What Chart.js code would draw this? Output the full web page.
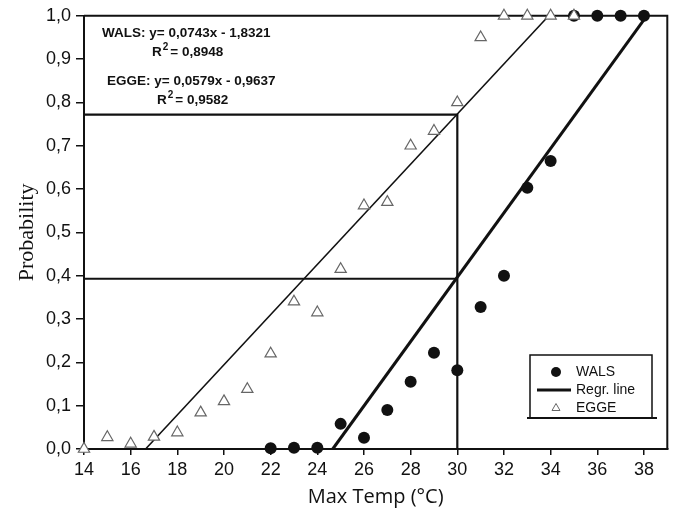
<!DOCTYPE html>
<html><head><meta charset="utf-8">
<script src="https://cdn.jsdelivr.net/npm/chart.js@4"></script>
<style>html,body{margin:0;padding:0;background:#fff}#wrap{width:675px;height:521px}</style>
</head><body><div id="wrap"><canvas id="c" width="675" height="521"></canvas></div>
<script>
// ---- data ----
const eggeTemp = [14,15,16,17,18,19,20,21,22,23,24,25,26,27,28,29,30,31,32,33,34,35];
const eggeProb = [0.0,0.027,0.012,0.028,0.038,0.084,0.11,0.138,0.22,0.34,0.315,0.415,0.562,0.57,0.70,0.734,0.80,0.95,1,1,1,1];
const walsTemp = [22,23,24,25,26,27,28,29,30,31,32,33,34,35,36,37,38];
const walsProb = [0.002,0.003,0.003,0.058,0.026,0.09,0.155,0.222,0.182,0.328,0.40,0.603,0.665,1,1,1,1];
// regression lines (endpoints where the fitted lines cross 0 and 1)
const eggeLineX = [16.64, 33.92];
const eggeLineY = [0, 1];
const walsLineX = [24.66, 38.12];
const walsLineY = [0, 1];
// reading lines at 30 °C
const eggeRefX = [14, 30, 30];
const eggeRefY = [0.772, 0.772, 0];
const walsRefX = [14, 30];
const walsRefY = [0.393, 0.393];
const eggeEq = ['EGGE: y= 0,0579x - 0,9637', '0,9582'];
const walsEq = ['WALS: y= 0,0743x - 1,8321', '0,8948'];
const legendLabels = ['WALS', 'Regr. line', 'EGGE'];
const xTitle = 'Max Temp (°C)';
const yTitle = 'Probability';

const pts = (xs, ys) => xs.map((x, i) => ({x, y: ys[i]}));
const INK = '#111';

const framePlugin = {
  id: 'frame',
  beforeDatasetsDraw(chart) {
    const {ctx, chartArea: a} = chart;
    ctx.save();
    ctx.strokeStyle = INK; ctx.lineWidth = 2;
    ctx.beginPath();
    ctx.moveTo(a.left, a.top); ctx.lineTo(a.right, a.top); ctx.lineTo(a.right, a.bottom);
    ctx.stroke();
    ctx.restore();
  }
};

const textPlugin = {
  id: 'eqText',
  afterDatasetsDraw(chart) {
    const {ctx, chartArea: a} = chart;
    ctx.save();
    ctx.fillStyle = INK;
    ctx.textBaseline = 'middle';
    ctx.textAlign = 'left';
    const main = 'bold 13.5px "Liberation Sans", Arial, sans-serif';
    const sup = 'bold 10px "Liberation Sans", Arial, sans-serif';
    function r2(x, y, val) {
      ctx.font = main; ctx.fillText('R', x, y);
      let w = ctx.measureText('R').width;
      ctx.font = sup; ctx.fillText('2', x + w + 1, y - 5);
      let w2 = ctx.measureText('2').width;
      ctx.font = main; ctx.fillText('= ' + val, x + w + w2 + 3, y);
    }
    ctx.font = main;
    ctx.fillText(walsEq[0], a.left + 18, a.top + 17);
    r2(a.left + 68, a.top + 36, walsEq[1]);
    ctx.font = main;
    ctx.fillText(eggeEq[0], a.left + 23, a.top + 65);
    r2(a.left + 73, a.top + 84, eggeEq[1]);
    ctx.restore();
  }
};

const legendPlugin = {
  id: 'customLegend',
  afterDatasetsDraw(chart) {
    const {ctx} = chart;
    ctx.save();
    ctx.strokeStyle = INK; ctx.lineWidth = 1.5;
    const L = 530, R = 652, T = 355, B = 418;
    ctx.beginPath();
    ctx.moveTo(L, B); ctx.lineTo(L, T); ctx.lineTo(R, T); ctx.lineTo(R, B);
    ctx.stroke();
    ctx.lineWidth = 2;
    ctx.beginPath(); ctx.moveTo(527, B); ctx.lineTo(657, B); ctx.stroke();
    // items
    ctx.fillStyle = INK;
    ctx.beginPath(); ctx.arc(556, 372, 5, 0, Math.PI * 2); ctx.fill();
    ctx.lineWidth = 3;
    ctx.beginPath(); ctx.moveTo(537, 390); ctx.lineTo(571, 390); ctx.stroke();
    ctx.lineWidth = 1; ctx.strokeStyle = '#666';
    ctx.beginPath(); ctx.moveTo(552, 410.5); ctx.lineTo(560, 410.5); ctx.lineTo(556, 403.5); ctx.closePath(); ctx.stroke();
    ctx.font = '14px "Liberation Sans Narrow", "Liberation Sans", sans-serif';
    ctx.textBaseline = 'middle'; ctx.fillStyle = INK;
    ctx.fillText(legendLabels[0], 576, 372);
    ctx.fillText(legendLabels[1], 576, 390);
    ctx.fillText(legendLabels[2], 576, 408);
    ctx.restore();
  }
};

const tickFont = {family: '"Liberation Sans Narrow", "Liberation Sans", sans-serif', size: 18};

new Chart(document.getElementById('c'), {
  type: 'scatter',
  data: {
    datasets: [
      {label: 'EGGE', data: pts(eggeTemp, eggeProb), order: 0, clip: false,
       pointStyle: 'triangle', pointRadius: 6.5, backgroundColor: '#fff', borderColor: '#666', borderWidth: 1.2, showLine: false},
      {label: 'WALS', data: pts(walsTemp, walsProb), order: 1, clip: false,
       pointStyle: 'circle', pointRadius: 6, backgroundColor: INK, borderColor: INK, borderWidth: 0, showLine: false},
      {label: 'EGGE fit', data: pts(eggeLineX, eggeLineY), order: 2, showLine: true, pointRadius: 0,
       borderColor: INK, borderWidth: 1.6, clip: false},
      {label: 'WALS fit', data: pts(walsLineX, walsLineY), order: 3, showLine: true, pointRadius: 0,
       borderColor: INK, borderWidth: 3, clip: false},
      {label: 'EGGE ref', data: pts(eggeRefX, eggeRefY), order: 4, showLine: true, pointRadius: 0,
       borderColor: INK, borderWidth: 2.2},
      {label: 'WALS ref', data: pts(walsRefX, walsRefY), order: 5, showLine: true, pointRadius: 0,
       borderColor: INK, borderWidth: 2.2}
    ]
  },
  options: {
    responsive: false,
    animation: false,
    layout: {padding: {top: 15, right: 5, left: 0, bottom: 0}},
    plugins: {legend: {display: false}, tooltip: {enabled: false}},
    scales: {
      x: {
        type: 'linear', min: 14, max: 39,
        afterFit(s) { s.height = 72; },
        ticks: {stepSize: 2, includeBounds: false, color: INK, font: tickFont, padding: 4, maxRotation: 0,
                callback: v => String(v)},
        grid: {display: true, drawOnChartArea: false, drawTicks: true, tickLength: 6, color: INK, lineWidth: 1.5},
        border: {display: true, color: INK, width: 2},
        title: {display: true, text: xTitle, color: INK,
                font: {family: '"Open Sans", sans-serif', size: 20}, padding: {top: 0, bottom: 12}}
      },
      y: {
        type: 'linear', min: 0, max: 1,
        afterFit(s) { s.width = 84; },
        ticks: {stepSize: 0.1, color: INK, font: tickFont, padding: 5,
                callback: v => v.toFixed(1).replace('.', ',')},
        grid: {display: true, drawOnChartArea: false, drawTicks: true, tickLength: 8, color: INK, lineWidth: 1.5},
        border: {display: true, color: INK, width: 2},
        title: {display: true, text: yTitle, color: INK,
                font: {family: '"Liberation Serif", "Times New Roman", serif', size: 22}, padding: {top: 14, bottom: 0}}
      }
    }
  },
  plugins: [framePlugin, textPlugin, legendPlugin]
});
</script>
</body></html>
